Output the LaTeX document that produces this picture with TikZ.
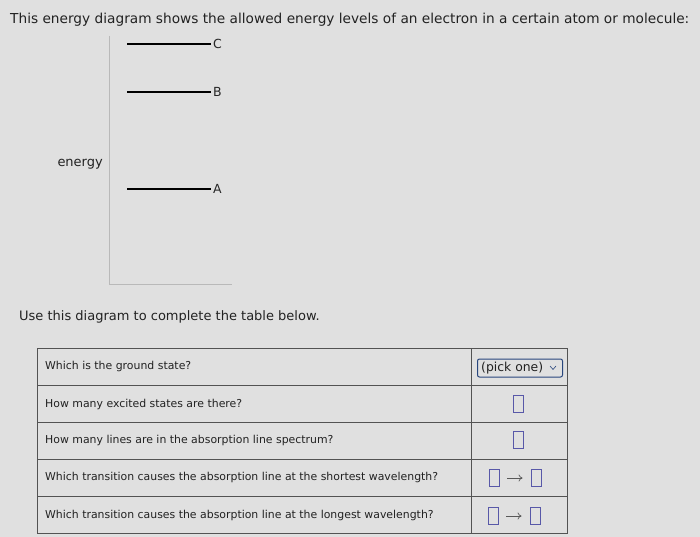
\documentclass[tikz,border=0pt]{standalone}
\usepackage{fontspec}
\setmainfont{DejaVu Sans}
\usetikzlibrary{positioning,arrows.meta}

\definecolor{pagecolor}{RGB}{224,224,224}
\definecolor{textcolor}{RGB}{34,34,34}
\definecolor{boxcolor}{RGB}{88,88,168}
\definecolor{pickcolor}{RGB}{40,70,125}

\begin{document}
\begin{tikzpicture}
  [x=1pt,y=-1pt,line cap=butt,
   % Styles
   level line/.style={line width=2.3pt,black},
   axis line/.style={draw=gray!55,line width=0.9pt},
   table line/.style={draw=gray!65!black,line width=0.9pt},
   big text/.style={anchor=west,inner sep=0pt,text=textcolor,font=\fontsize{13}{15}\selectfont},
   question text/.style={anchor=west,inner sep=0pt,text=textcolor,font=\fontsize{10.9}{12}\selectfont},
   answer box/.style={draw=boxcolor,line width=0.9pt,minimum width=10pt,minimum height=17pt,inner sep=0pt},
   transition/.style={-{To[length=4pt,width=7pt]},gray!70!black,line width=0.7pt,shorten <=8pt,shorten >=8pt}]

  % The page
  \fill[pagecolor] (0,0) rectangle (700,537);
  \useasboundingbox (0,0) rectangle (700,537);

  \node[big text,font=\fontsize{13.7}{15}\selectfont] (title) at (10,20)
    {This energy diagram shows the allowed energy levels of an electron in a certain atom or molecule:};

  % Energy axis
  \coordinate (axis top) at (109,36);
  \coordinate (origin) at (109,284);
  \coordinate (axis end) at (232,284);
  \draw[axis line] (axis top) -- (origin) -- (axis end);
  \node[big text,anchor=east] (energy) at (103,164) {energy};

  % Levels
  \foreach \name/\y in {C/44,B/92,A/189}
  {
    \coordinate (\name start) at (127,\y);
    \node[anchor=west,inner sep=2pt,text=gray!30!black,font=\fontsize{12.5}{14}\selectfont] (\name) at (211,\y) {\name};
    \draw[level line] (\name start) -- (\name.west);
  }

  \node[big text] (use) at (19,317) {Use this diagram to complete the table below.};

  % The table
  \draw[table line] (37,348) rectangle (567,533);
  \foreach \k in {1,...,4}
    \draw[table line] (37,348+37*\k) -- (567,348+37*\k);
  \draw[table line] (471,348) -- (471,533);

  \node[question text] (q1) at (45,366) {Which is the ground state?};
  \node[question text] (q2) at (45,404) {How many excited states are there?};
  \node[question text] (q3) at (45,440) {How many lines are in the absorption line spectrum?};
  \node[question text] (q4) at (45,477) {Which transition causes the absorption line at the shortest wavelength?};
  \node[question text] (q5) at (45,515) {Which transition causes the absorption line at the longest wavelength?};

  % Answers
  \node[draw=pickcolor,line width=1pt,rounded corners=2pt,minimum width=85pt,minimum height=18pt,
        inner sep=0pt,anchor=west] (pick) at (477,368) {};
  \node[anchor=west,inner sep=0pt,text=textcolor,font=\fontsize{12.4}{14}\selectfont] (pick text) at (481,368) {(pick one)};
  \draw[pickcolor,line width=0.6pt] (550,366) -- (553,369.5) -- (556,366);

  \node[answer box] (a2) at (518,404) {};
  \node[answer box] (a3) at (518,440) {};
  \node[answer box] (a4 from) at (494,478) {};
  \node[answer box] (a4 to) at (536,478) {};
  \node[answer box] (a5 from) at (493,516) {};
  \node[answer box] (a5 to) at (535,516) {};
  \draw[transition] (a4 from) -- (a4 to);
  \draw[transition] (a5 from) -- (a5 to);
\end{tikzpicture}
\end{document}
